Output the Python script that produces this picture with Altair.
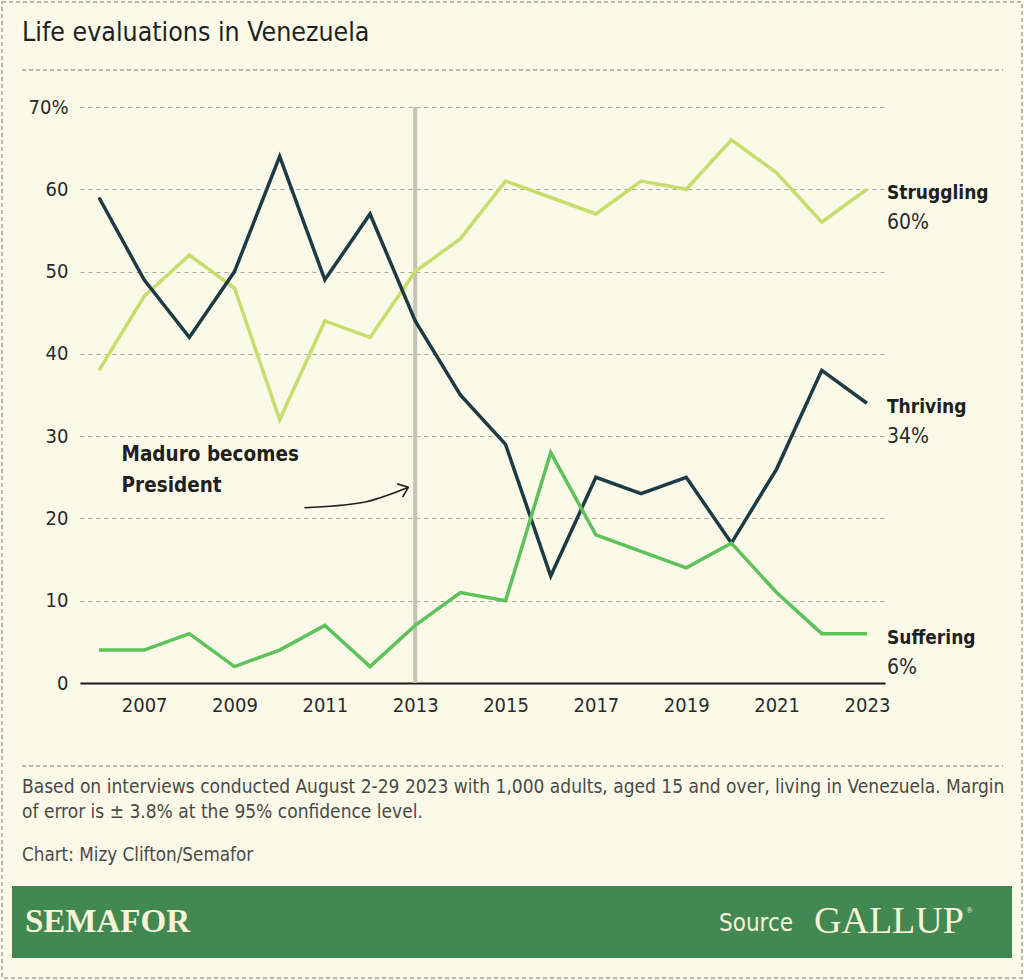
import altair as alt
import pandas as pd

years = list(range(2006, 2024))
thriving = [59, 49, 42, 50, 64, 49, 57, 44, 35, 29, 13, 25, 23, 25, 17, 26, 38, 34]
struggling = [38, 47, 52, 48, 32, 44, 42, 50, 54, 61, 59, 57, 61, 60, 66, 62, 56, 60]
suffering = [4, 4, 6, 2, 4, 7, 2, 7, 11, 10, 28, 18, 16, 14, 17, 11, 6, 6]

series_names = ["Struggling", "Thriving", "Suffering"]
series_colors = ["#c6de6b", "#1d3b44", "#5ec25a"]
x_tick_years = [2007, 2009, 2011, 2013, 2015, 2017, 2019, 2021, 2023]
y_ticks = [0, 10, 20, 30, 40, 50, 60, 70]

event_year = [2013]
annot_lines = ["Maduro becomes", "President"]
annot_pos = [2006.5, 28.9]
arrow_x = [2010.55, 2011.8, 2012.85]
arrow_y = [21.3, 21.9, 23.8]
head1_x = [2012.6, 2012.85]
head1_y = [24.2, 23.8]
head2_x = [2012.72, 2012.85]
head2_y = [22.6, 23.8]

title_text = "Life evaluations in Venezuela"
note_lines = [
    "Based on interviews conducted August 2-29 2023 with 1,000 adults, aged 15 and over, living in Venezuela. Margin",
    "of error is \u00b1 3.8% at the 95% confidence level.",
]
credit_text = "Chart: Mizy Clifton/Semafor"

FONT = "DejaVu Sans Condensed, Liberation Sans Narrow, Roboto, sans-serif"
SERIF = "Liberation Serif, DejaVu Serif, serif"

rows = []
for name, vals in zip(series_names, [struggling, thriving, suffering]):
    for y, v in zip(years, vals):
        rows.append({"year": y, "value": v, "series": name})
df = pd.DataFrame(rows)

last = df[df["year"] == years[-1]].copy()
last["pct"] = last["value"].astype(int).astype(str) + "%"

W, H = 805, 576
L, T = 80, 107

xscale = alt.Scale(domain=[2005.58, 2023.4], nice=False, zero=False)
yscale = alt.Scale(domain=[0, 70], nice=False)
color = alt.Color("series:N", scale=alt.Scale(domain=series_names, range=series_colors), legend=None)

vline = alt.Chart(pd.DataFrame({"year": event_year, "y0": [0], "y1": [70]})).mark_rule(
    color="#c4c3b7", strokeWidth=4
).encode(x=alt.X("year:Q", scale=xscale), y=alt.Y("y0:Q", scale=yscale), y2="y1:Q")

lines = alt.Chart(df).mark_line(strokeWidth=3.5).encode(
    x=alt.X(
        "year:Q",
        scale=xscale,
        axis=alt.Axis(
            values=x_tick_years, format="d", title=None, grid=False, ticks=False,
            domain=True, domainColor="#1a1a1a", domainWidth=2,
            labelFont=FONT, labelFontSize=20, labelColor="#2a2a2a", labelPadding=12,
        ),
    ),
    y=alt.Y(
        "value:Q",
        scale=yscale,
        axis=alt.Axis(
            values=y_ticks, title=None, ticks=False, domain=False,
            grid=True, gridDash=[4, 4], gridColor="#a9a89f", gridWidth=1,
            labelExpr="datum.value == 70 ? '70%' : datum.label",
            labelFont=FONT, labelFontSize=20, labelColor="#2a2a2a", labelPadding=12,
        ),
    ),
    color=color,
    detail="series:N",
)

name_labels = alt.Chart(last).mark_text(
    align="left", baseline="middle", dx=20, dy=4, font=FONT, fontSize=19, fontWeight="bold", color="#1f1f1f"
).encode(x=alt.X("year:Q", scale=xscale), y=alt.Y("value:Q", scale=yscale), text="series:N")

pct_labels = alt.Chart(last).mark_text(
    align="left", baseline="middle", dx=20, dy=34, font=FONT, fontSize=21, color="#2a2a2a"
).encode(x=alt.X("year:Q", scale=xscale), y=alt.Y("value:Q", scale=yscale), text="pct:N")

annot = alt.Chart(pd.DataFrame({"x": [annot_pos[0]], "y": [annot_pos[1]], "t": [annot_lines]})).mark_text(
    align="left", baseline="top", font=FONT, fontSize=20.5, fontWeight="bold", color="#1f1f1f", lineHeight=31
).encode(x=alt.X("x:Q", scale=xscale), y=alt.Y("y:Q", scale=yscale), text="t")

arrow = alt.Chart(pd.DataFrame({"x": arrow_x, "y": arrow_y})).mark_line(
    color="#1f1f1f", strokeWidth=1.6, interpolate="monotone"
).encode(x=alt.X("x:Q", scale=xscale), y=alt.Y("y:Q", scale=yscale))
h1 = alt.Chart(pd.DataFrame({"x": head1_x, "y": head1_y})).mark_line(color="#1f1f1f", strokeWidth=1.6).encode(
    x=alt.X("x:Q", scale=xscale), y=alt.Y("y:Q", scale=yscale))
h2 = alt.Chart(pd.DataFrame({"x": head2_x, "y": head2_y})).mark_line(color="#1f1f1f", strokeWidth=1.6).encode(
    x=alt.X("x:Q", scale=xscale), y=alt.Y("y:Q", scale=yscale))

one = pd.DataFrame({"a": [0]})
border = alt.Chart(one).mark_rect(fill=None, stroke="#b9b9b0", strokeWidth=2, strokeDash=[4, 3]).encode(
    x=alt.value(2 - L), x2=alt.value(1022 - L), y=alt.value(2 - T), y2=alt.value(978 - T))
title_rule = alt.Chart(one).mark_rule(color="#b9b9b0", strokeWidth=2, strokeDash=[4, 3]).encode(
    x=alt.value(22 - L), x2=alt.value(1003 - L), y=alt.value(70 - T))
foot_rule = alt.Chart(one).mark_rule(color="#b9b9b0", strokeWidth=2, strokeDash=[4, 3]).encode(
    x=alt.value(22 - L), x2=alt.value(1003 - L), y=alt.value(766 - T))
title = alt.Chart(one).mark_text(align="left", baseline="middle", font=FONT, fontSize=26.5, color="#1f1f1f").encode(
    x=alt.value(22 - L), y=alt.value(33 - T), text=alt.value(title_text))
note = alt.Chart(one).mark_text(align="left", baseline="middle", font=FONT, fontSize=19, color="#4a4a4a", lineHeight=25).encode(
    x=alt.value(22 - L), y=alt.value(787 - T), text=alt.value(note_lines))
credit = alt.Chart(one).mark_text(align="left", baseline="middle", font=FONT, fontSize=18.7, color="#4a4a4a").encode(
    x=alt.value(22 - L), y=alt.value(855 - T), text=alt.value(credit_text))
banner = alt.Chart(one).mark_rect(fill="#418852").encode(
    x=alt.value(12 - L), x2=alt.value(1012 - L), y=alt.value(886 - T), y2=alt.value(958 - T))
semafor = alt.Chart(one).mark_text(align="left", baseline="middle", font=SERIF, fontSize=33, fontWeight="bold", color="#f6f3d8").encode(
    x=alt.value(25 - L), y=alt.value(922 - T), text=alt.value("SEMAFOR"))
source = alt.Chart(one).mark_text(align="left", baseline="middle", font=FONT, fontSize=24, color="#f6f3d8").encode(
    x=alt.value(719 - L), y=alt.value(924 - T), text=alt.value("Source"))
gallup = alt.Chart(one).mark_text(align="left", baseline="middle", font=SERIF, fontSize=38, color="#f6f3d8").encode(
    x=alt.value(814 - L), y=alt.value(922 - T), text=alt.value("GALLUP"))
reg = alt.Chart(one).mark_text(align="left", baseline="middle", font=SERIF, fontSize=9, color="#f6f3d8").encode(
    x=alt.value(966 - L), y=alt.value(910 - T), text=alt.value("\u00ae"))

chart = alt.layer(
    border, title_rule, foot_rule, title, note, credit, banner, semafor, source, gallup, reg,
    vline, lines, name_labels, pct_labels, annot, arrow, h1, h2,
).properties(
    width=W, height=H,
    autosize=alt.AutoSizeParams(type="none"),
    padding={"left": L, "top": T, "right": 1024 - L - W, "bottom": 980 - T - H},
).configure(background="#fbf9e8").configure_view(stroke=None)

chart.save("out.html", embed_options={"renderer": "svg", "actions": False})
